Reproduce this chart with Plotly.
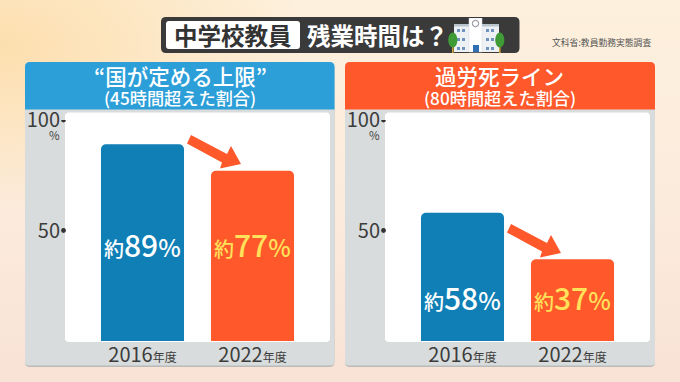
import base64
import plotly.graph_objects as go

W, H = 680, 382
FONT = "Noto Sans CJK JP"

# ---- data ----
years = ["2016", "2022"]
over45 = [89, 77]
over80 = [58, 37]
year_labels = ["2016<span style='font-size:12px'>年度</span>", "2022<span style='font-size:12px'>年度</span>"]
y_ticks = [50, 100]
y_tick_labels = ["50", "100"]
bar_colors = ["#0F7FB6", "#FF582B"]
label_colors = ["#FFFFFF", "#FFE25A"]
left_title = "“国が定める上限”"
left_sub = "(45時間超えた割合)"
right_title = "過労死ライン"
right_sub = "(80時間超えた割合)"
left_label_y = 44
right_label_y = 20


def px(x):
    return x / W


def py(y):
    return 1 - y / H


def poly(points):
    return "M " + " L ".join(f"{px(x):.5f},{py(y):.5f}" for x, y in points) + " Z"


def rrect(x0, y0, x1, y1, tl=4, tr=4, br=4, bl=4):
    P = lambda x, y: f"{px(x):.5f},{py(y):.5f}"
    return (f"M {P(x0 + tl, y0)} L {P(x1 - tr, y0)} Q {P(x1, y0)} {P(x1, y0 + tr)} "
            f"L {P(x1, y1 - br)} Q {P(x1, y1)} {P(x1 - br, y1)} "
            f"L {P(x0 + bl, y1)} Q {P(x0, y1)} {P(x0, y1 - bl)} "
            f"L {P(x0, y0 + tl)} Q {P(x0, y0)} {P(x0 + tl, y0)} Z")


def fill(path, color, layer="below"):
    return dict(type="path", path=path, xref="paper", yref="paper", fillcolor=color,
                line=dict(width=0), layer=layer)


def uri(svg):
    return "data:image/svg+xml;base64," + base64.b64encode(svg.encode()).decode()


bg_svg = f"""<svg xmlns='http://www.w3.org/2000/svg' width='{W}' height='{H}'>
<defs>
<linearGradient id='a' x1='0' y1='0' x2='0' y2='1'>
<stop offset='0' stop-color='#FDF0DC'/><stop offset='0.55' stop-color='#FBEBDD'/><stop offset='1' stop-color='#F9E2D6'/>
</linearGradient>
<radialGradient id='b' cx='0' cy='0.12' r='0.45'>
<stop offset='0' stop-color='#FDDFAE' stop-opacity='1'/><stop offset='1' stop-color='#FDDFAE' stop-opacity='0'/>
</radialGradient>
</defs>
<rect width='{W}' height='{H}' fill='url(#a)'/>
<rect width='{W}' height='{H}' fill='url(#b)'/>
</svg>"""

school_svg = """<svg xmlns='http://www.w3.org/2000/svg' viewBox='0 0 57 36' width='228' height='144'>
<rect x='6' y='7' width='45' height='27' fill='#EDF1F4'/>
<rect x='6' y='6' width='45' height='2.5' fill='#B9C4CC'/>
<rect x='21' y='0' width='13' height='34' fill='#FFFFFF'/>
<rect x='21' y='0' width='13' height='34' fill='none' stroke='#D5DBE0' stroke-width='0.5'/>
<circle cx='27.5' cy='5.5' r='3.2' fill='#FFFFFF' stroke='#667' stroke-width='0.8'/>
<rect x='25' y='27' width='6' height='7' fill='#2F6FB2'/>
<g fill='#6E93BE'>
<rect x='9' y='11' width='3' height='3'/><rect x='14' y='11' width='3' height='3'/>
<rect x='9' y='20' width='3' height='3'/><rect x='14' y='20' width='3' height='3'/>
<rect x='9' y='29' width='3' height='3'/><rect x='14' y='29' width='3' height='3'/>
<rect x='38' y='11' width='3' height='3'/><rect x='43' y='11' width='3' height='3'/>
<rect x='38' y='20' width='3' height='3'/><rect x='43' y='20' width='3' height='3'/>
<rect x='38' y='29' width='3' height='3'/><rect x='43' y='29' width='3' height='3'/>
</g>
<rect x='4' y='26' width='1.6' height='9' fill='#C9A23A'/>
<rect x='51' y='26' width='1.6' height='9' fill='#C9A23A'/>
<ellipse cx='4.8' cy='22' rx='4.6' ry='7.5' fill='#3E9B35'/>
<ellipse cx='51.8' cy='22' rx='4.6' ry='7.5' fill='#3E9B35'/>
</svg>"""

shapes = []
for x0, x1, head, wx0, wx1 in [(25, 334.5, "#2C9ED8", 65, 330), (345, 655, "#FF582B", 385, 650)]:
    shapes.append(fill(rrect(x0, 63, x1, 367, 5, 5, 5, 5), "#B9BBB9"))
    shapes.append(fill(rrect(x0, 62, x1, 365.5, 5, 5, 4, 4), "#D9DCDC"))
    shapes.append(fill(rrect(x0, 62, x1, 109.5, 5, 5, 0.1, 0.1), head))
    shapes.append(fill(rrect(wx0, 112.5, wx1, 342, 4, 4, 4, 4), "#FFFFFF"))

# title bar
shapes.append(fill(rrect(161, 17, 519.5, 53, 5, 5, 5, 5), "#3A3A3A"))
shapes.append(fill(rrect(166, 21, 300, 49, 3, 3, 3, 3), "#FFFFFF"))

# arrows
arrow = [(191, 135), (187, 143.5), (222, 162.5), (220, 168.5), (241, 164), (231, 146), (227, 154)]
for dx, dy in [(0, 0), (320, 89)]:
    shapes.append(fill(poly([(x + dx, y + dy) for x, y in arrow]), "#FF582B", "above"))

# axis dots
for xr, yr, edge in [("x", "y", 63.5), ("x2", "y2", 383.5)]:
    for v in y_ticks:
        shapes.append(dict(type="circle", xref="paper", yref=yr, xsizemode="pixel", ysizemode="pixel",
                           xanchor=px(edge), yanchor=v, x0=-2.4, x1=2.4, y0=-2.4, y1=2.4,
                           fillcolor="#333333", line=dict(width=0), layer="above"))

fig = go.Figure()
for values, xa, ya in [(over45, "x", "y"), (over80, "x2", "y2")]:
    fig.add_trace(go.Bar(x=years, y=values, xaxis=xa, yaxis=ya, marker=dict(color=bar_colors, line=dict(width=0)),
                         showlegend=False, hoverinfo="skip"))

annotations = []


def note(text, x, y, size, color, xref="paper", yref="paper", weight=None):
    f = dict(size=size, color=color, family=FONT)
    if weight:
        f["weight"] = weight
    annotations.append(dict(text=text, x=x, y=y, xref=xref, yref=yref, showarrow=False,
                            xanchor="center", yanchor="middle", font=f))


# titles
note("中学校教員", px(232.5), py(35), 23.5, "#333333", weight=700)
note("残業時間は？", px(377), py(35), 23.5, "#FFFFFF", weight=700)
note("文科省:教員勤務実態調査", px(601), py(42), 8.8, "#555555")

note(left_title, px(180), py(75), 21.5, "#FFFFFF", weight=500)
note(left_sub, px(180), py(97.5), 17.2, "#FFFFFF", weight=500)
note(right_title, px(499.5), py(75), 21.5, "#FFFFFF", weight=500)
note(right_sub, px(500), py(97.5), 17.2, "#FFFFFF", weight=500)

# percent markers
note("%", px(54.5), py(135), 11.5, "#444444")
note("%", px(374.5), py(135), 11.5, "#444444")

# bar labels
for values, xr, yr, ly in [(over45, "x", "y", left_label_y), (over80, "x2", "y2", right_label_y)]:
    for i, (v, c) in enumerate(zip(values, label_colors)):
        note(f"<span style='font-size:20px'>約</span>{v}<span style='font-size:24px'>%</span>",
             i, ly, 30, c, xref=xr, yref=yr, weight=500)

fig.update_layout(
    width=W, height=H, margin=dict(l=0, r=0, t=0, b=0, autoexpand=False),
    paper_bgcolor="#FBEBDD", plot_bgcolor="rgba(0,0,0,0)",
    barmode="group", bargap=0.245, barcornerradius=5,
    shapes=shapes, annotations=annotations,
    images=[
        dict(source=uri(bg_svg), xref="paper", yref="paper", x=0, y=1, sizex=1, sizey=1,
             sizing="stretch", xanchor="left", yanchor="top", layer="below"),
        dict(source=uri(school_svg), xref="paper", yref="paper", x=px(448), y=py(18),
             sizex=57 / W, sizey=36 / H, sizing="stretch", xanchor="left", yanchor="top", layer="above"),
    ],
    font=dict(family=FONT),
)

for name, a, b in [("xaxis", 65, 330), ("xaxis2", 385, 650)]:
    fig.update_layout({name: dict(
        domain=[px(a), px(b)], range=[-0.7045, 1.7045], type="category",
        anchor="y" if name == "xaxis" else "y2", tickmode="array", tickvals=years, ticktext=year_labels,
        tickfont=dict(size=20, color="#3C3C3C", family=FONT), ticklen=0, ticks="",
        showgrid=False, zeroline=False, showline=False, fixedrange=True)})
for name, a in [("yaxis", "x"), ("yaxis2", "x2")]:
    fig.update_layout({name: dict(
        domain=[py(341), py(120)], range=[0, 100], anchor=a, tickmode="array", tickvals=y_ticks,
        ticktext=y_tick_labels, tickfont=dict(size=20, color="#3C3C3C", family=FONT), ticks="",
        ticklen=0, ticklabelstandoff=4, showgrid=False, zeroline=False, showline=False, fixedrange=True)})

fig.write_html("out.html", config=dict(displayModeBar=False),
               post_script="document.body.style.margin='0';document.body.style.overflow='hidden';")
